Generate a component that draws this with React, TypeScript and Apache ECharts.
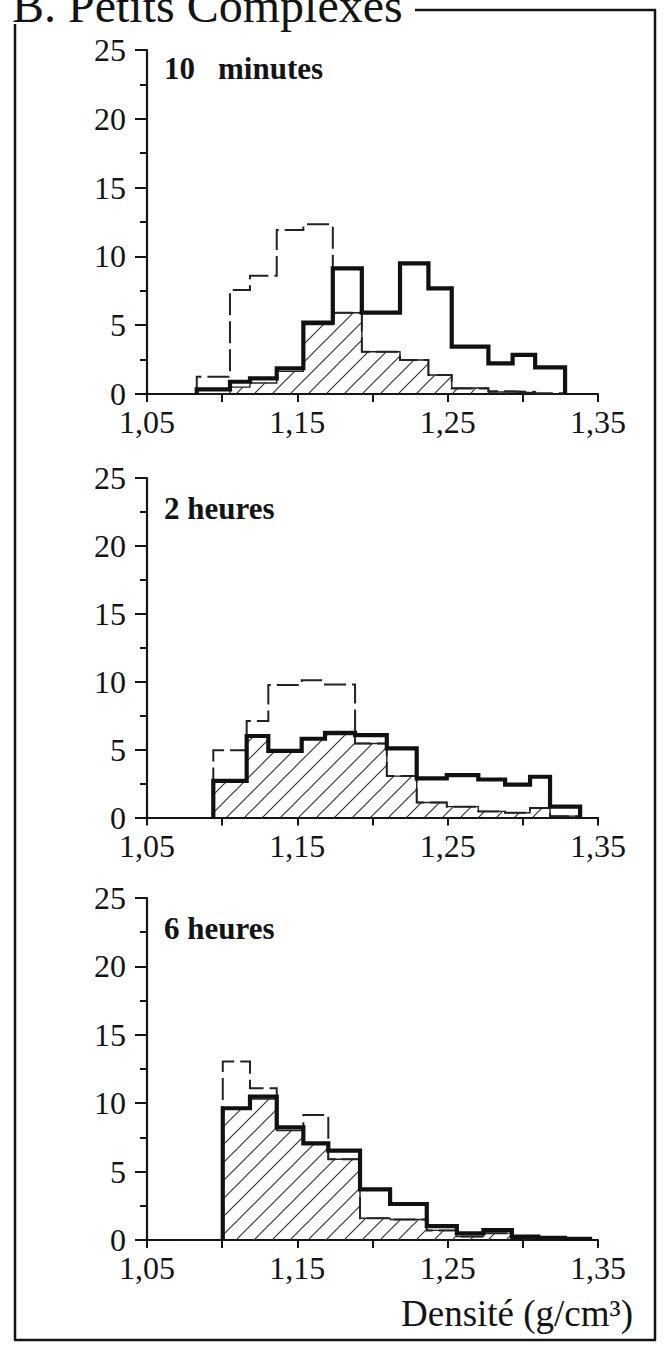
import React, { useEffect, useRef } from "react";
import * as echarts from "echarts";

// ---- tick labels ----
const X_TICK_LABELS = [1.05, 1.15, 1.25, 1.35];
const X_RANGE = [1.05, 1.35];
const Y_RANGE = [0, 25];

// ---- texts ----
const TITLE = "B. Petits Complexes";
const AXIS_NAME = "Densité (g/cm³)";
const PANEL_LABELS = ["2 heures", "6 heures"];

// ---- Panel 1 : 10 minutes (bin edges = densities, values per bin) ----
const edges10min = [1.0831, 1.1052, 1.1185, 1.1363, 1.154, 1.1736, 1.1929, 1.2183, 1.2372, 1.2527, 1.2771, 1.2932, 1.3082, 1.3281];
const solid10min = [0.34, 0.89, 1.14, 1.87, 5.18, 9.13, 5.91, 9.5, 7.68, 3.44, 2.23, 2.85, 1.94];
const dashed10min = [1.26, 7.56, 8.6, 11.92, 12.33, 5.91, 3.07, 2.47, 1.38, 0.4, 0.2, 0.15, 0.05];
const hatched10min = [0, 0.5, 0.8, 1.65, 5.05, 5.91, 3.07, 2.47, 1.38, 0.44, 0.15, 0.1, 0];

// ---- Panel 2 : 2 heures ----
const edges2h = [1.0941, 1.1163, 1.1307, 1.1529, 1.1684, 1.1884, 1.2095, 1.2294, 1.2494, 1.2704, 1.2882, 1.3048, 1.3181, 1.3381];
const solid2h = [2.7, 6.0, 4.9, 5.8, 6.24, 6.07, 5.09, 2.88, 3.12, 2.8, 2.42, 3.0, 0.8];
const dashed2h = [4.95, 7.1, 9.76, 10.1, 9.8, 5.45, 3.05, 1.1, 0.8, 0.45, 0.35, 0.7, 0.1];
const hatched2h = [2.7, 6.0, 4.9, 5.8, 6.1, 5.45, 3.05, 1.1, 0.8, 0.45, 0.35, 0.7, 0.1];

// ---- Panel 3 : 6 heures ----
const edges6h = [1.1004, 1.1185, 1.1363, 1.154, 1.1706, 1.1917, 1.2117, 1.2361, 1.2561, 1.2738, 1.2927, 1.3103, 1.3281, 1.3447];
const solid6h = [9.63, 10.48, 8.24, 7.07, 6.53, 3.7, 2.63, 1.02, 0.49, 0.73, 0.24, 0.15, 0.08];
const dashed6h = [13.05, 11.1, 8.24, 9.14, 5.9, 1.59, 1.5, 0.7, 0.25, 0.5, 0.15, 0.1, 0.05];
const hatched6h = [9.63, 10.3, 8.0, 7.07, 5.9, 1.59, 1.5, 0.7, 0.25, 0.5, 0.15, 0.1, 0.05];

const FONT = '"Liberation Serif", "Times New Roman", serif';
const INK = "#141414";

function stepPoints(edges: number[], values: number[]) {
  const pts: number[][] = [[edges[0], 0]];
  values.forEach((v, i) => pts.push([edges[i], v]));
  pts.push([edges[edges.length - 1], values[values.length - 1]]);
  pts.push([edges[edges.length - 1], 0]);
  return pts;
}

function makeHatch(s: number) {
  const c = document.createElement("canvas");
  c.width = s;
  c.height = s;
  const ctx = c.getContext("2d")!;
  ctx.strokeStyle = "#333";
  ctx.lineWidth = 1.2;
  ctx.beginPath();
  ctx.moveTo(0, s);
  ctx.lineTo(s, 0);
  ctx.moveTo(-2, 2);
  ctx.lineTo(2, -2);
  ctx.moveTo(s - 2, s + 2);
  ctx.lineTo(s + 2, s - 2);
  ctx.stroke();
  return c;
}

export default function App() {
  const ref = useRef<HTMLDivElement>(null);
  useEffect(() => {
    const chart = echarts.init(ref.current!, null, { renderer: "svg" });
    const HS = 18;
    const hatch = makeHatch(HS);
    const panels = [
      { edges: edges10min, solid: solid10min, dashed: dashed10min, hatched: hatched10min },
      { edges: edges2h, solid: solid2h, dashed: dashed2h, hatched: hatched2h },
      { edges: edges6h, solid: solid6h, dashed: dashed6h, hatched: hatched6h },
    ];
    const layout = [
      { top: 50, height: 344 },
      { top: 478, height: 339.5 },
      { top: 898, height: 342 },
    ];
    const grid = layout.map((g) => ({ left: 147, width: 451, top: g.top, height: g.height }));
    const xAxis = panels.map((_, i) => ({
      gridIndex: i,
      type: "value",
      min: X_RANGE[0],
      max: X_RANGE[1],
      interval: 0.05,
      axisLine: { show: true, onZero: false, lineStyle: { color: INK, width: 2.2 } },
      axisTick: { show: true, length: 8, lineStyle: { color: INK, width: 2 } },
      splitLine: { show: false },
      axisLabel: {
        showMinLabel: true,
        showMaxLabel: true,
        margin: 12,
        color: INK,
        fontFamily: FONT,
        fontSize: 32,
        formatter: (v: number) => {
          const r = Math.round(v * 100) / 100;
          return X_TICK_LABELS.some((t) => Math.abs(t - r) < 1e-6) ? r.toFixed(2).replace(".", ",") : "";
        },
      },
    }));
    const yAxis = panels.map((_, i) => ({
      gridIndex: i,
      type: "value",
      min: Y_RANGE[0],
      max: Y_RANGE[1],
      interval: 5,
      axisLine: { show: true, lineStyle: { color: INK, width: 2.2 } },
      axisTick: { show: true, length: 12, lineStyle: { color: INK, width: 2 } },
      minorTick: { show: true, splitNumber: 2, length: 7, lineStyle: { color: INK, width: 2 } },
      splitLine: { show: false },
      minorSplitLine: { show: false },
      axisLabel: {
        showMinLabel: true,
        showMaxLabel: true,
        margin: 21,
        color: INK,
        fontFamily: FONT,
        fontSize: 32,
      },
    }));
    const series: any[] = [];
    panels.forEach((p, i) => {
      series.push({
        type: "line",
        xAxisIndex: i,
        yAxisIndex: i,
        step: "end",
        symbol: "none",
        silent: true,
        z: 1,
        data: stepPoints(p.edges, p.hatched),
        lineStyle: { color: "#222", width: 1.4, join: "miter" },
        areaStyle: {
          color: { image: hatch, repeat: "repeat", imageWidth: HS, imageHeight: HS },
          opacity: 1,
        },
      });
      series.push({
        type: "line",
        xAxisIndex: i,
        yAxisIndex: i,
        step: "end",
        symbol: "none",
        silent: true,
        z: 2,
        data: stepPoints(p.edges, p.dashed),
        lineStyle: { color: "#222", width: 2, type: [22, 6], join: "miter" },
      });
      series.push({
        type: "line",
        xAxisIndex: i,
        yAxisIndex: i,
        step: "end",
        symbol: "none",
        silent: true,
        z: 3,
        data: stepPoints(p.edges, p.solid),
        lineStyle: { color: "#111", width: 4.2, join: "miter", cap: "butt" },
      });
    });

    const boldFont = `bold 31px ${FONT}`;
    const graphic: any[] = [
      { type: "text", x: 12, y: 5, style: { text: TITLE, font: `48px ${FONT}`, fill: INK, verticalAlign: "middle" } },
      { type: "line", shape: { x1: 15, y1: 24, x2: 15, y2: 1340 }, style: { stroke: INK, lineWidth: 2.5 } },
      { type: "line", shape: { x1: 415, y1: 10, x2: 656, y2: 10 }, style: { stroke: INK, lineWidth: 2.5 } },
      { type: "line", shape: { x1: 655, y1: 9, x2: 655, y2: 1341 }, style: { stroke: INK, lineWidth: 2.5 } },
      { type: "line", shape: { x1: 14, y1: 1340, x2: 656, y2: 1340 }, style: { stroke: INK, lineWidth: 2.5 } },
      { type: "text", x: 164, y: 68, style: { text: "10", font: boldFont, fill: INK, verticalAlign: "middle" } },
      { type: "text", x: 218, y: 68, style: { text: "minutes", font: boldFont, fill: INK, verticalAlign: "middle" } },
      { type: "text", x: 164, y: 508, style: { text: PANEL_LABELS[0], font: boldFont, fill: INK, verticalAlign: "middle" } },
      { type: "text", x: 164, y: 928, style: { text: PANEL_LABELS[1], font: boldFont, fill: INK, verticalAlign: "middle" } },
      { type: "text", x: 633, y: 1313, style: { text: AXIS_NAME, font: `37px ${FONT}`, fill: INK, align: "right", verticalAlign: "middle" } },
    ];

    chart.setOption({
      animation: false,
      backgroundColor: "#ffffff",
      grid,
      xAxis,
      yAxis,
      series,
      graphic,
    });
    return () => chart.dispose();
  }, []);
  return <div ref={ref} style={{ position: "fixed", left: 0, top: 0, width: 669, height: 1345 }} />;
}
